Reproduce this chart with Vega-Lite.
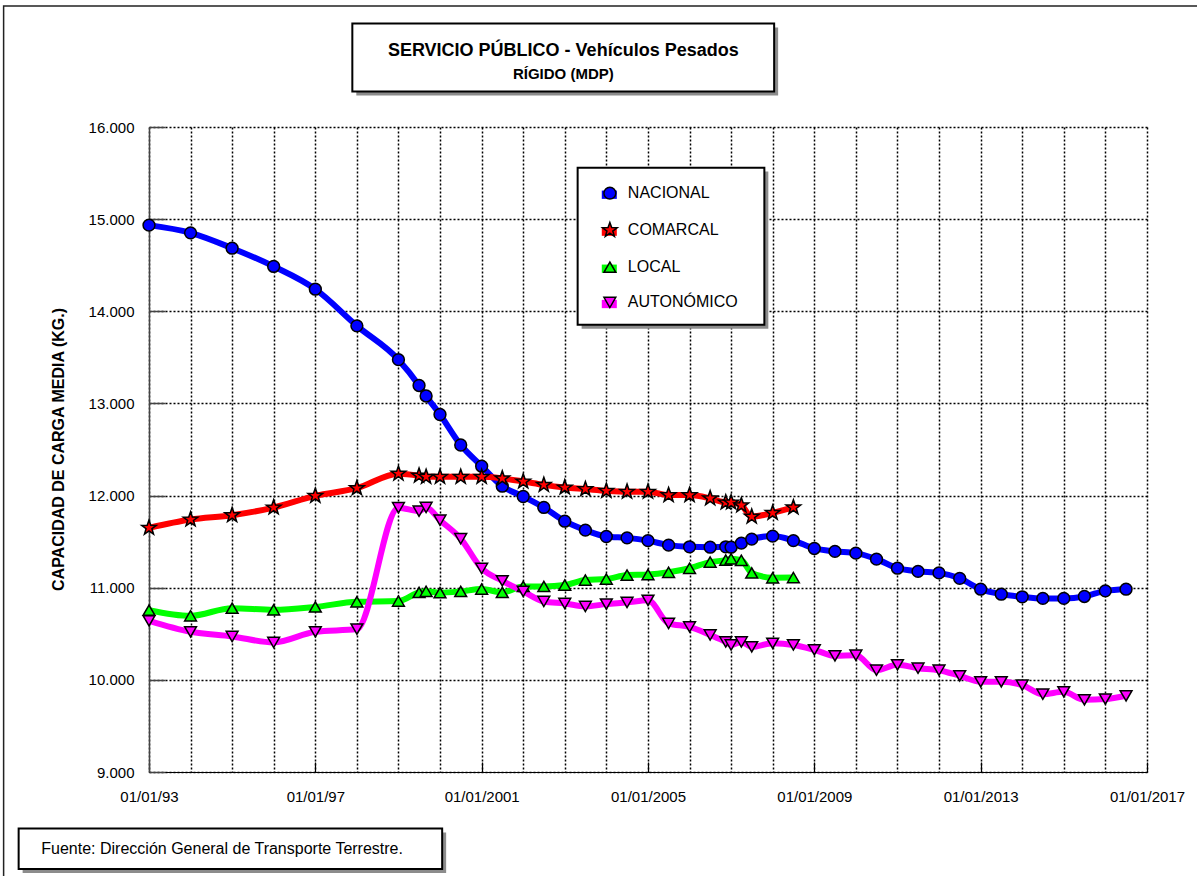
{
  "$schema": "https://vega.github.io/schema/vega-lite/v6.json",
  "width": 998,
  "height": 645,
  "autosize": "none",
  "padding": {"left": 149, "top": 127, "right": 50, "bottom": 104},
  "background": "white",
  "config": {"view": {"stroke": null}, "font": "Liberation Sans"},
  "datasets": {
    "series": [
      {"d": "1993-01-01", "s": "NACIONAL", "v": 14935},
      {"d": "1994-01-01", "s": "NACIONAL", "v": 14851},
      {"d": "1995-01-01", "s": "NACIONAL", "v": 14685},
      {"d": "1996-01-01", "s": "NACIONAL", "v": 14487},
      {"d": "1997-01-01", "s": "NACIONAL", "v": 14240},
      {"d": "1998-01-01", "s": "NACIONAL", "v": 13842},
      {"d": "1999-01-01", "s": "NACIONAL", "v": 13475},
      {"d": "1999-07-01", "s": "NACIONAL", "v": 13195},
      {"d": "1999-09-01", "s": "NACIONAL", "v": 13081},
      {"d": "2000-01-01", "s": "NACIONAL", "v": 12880},
      {"d": "2000-07-01", "s": "NACIONAL", "v": 12549},
      {"d": "2001-01-01", "s": "NACIONAL", "v": 12319},
      {"d": "2001-07-01", "s": "NACIONAL", "v": 12102},
      {"d": "2002-01-01", "s": "NACIONAL", "v": 11990},
      {"d": "2002-07-01", "s": "NACIONAL", "v": 11871},
      {"d": "2003-01-01", "s": "NACIONAL", "v": 11722},
      {"d": "2003-07-01", "s": "NACIONAL", "v": 11625},
      {"d": "2004-01-01", "s": "NACIONAL", "v": 11556},
      {"d": "2004-07-01", "s": "NACIONAL", "v": 11541},
      {"d": "2005-01-01", "s": "NACIONAL", "v": 11511},
      {"d": "2005-07-01", "s": "NACIONAL", "v": 11462},
      {"d": "2006-01-01", "s": "NACIONAL", "v": 11444},
      {"d": "2006-07-01", "s": "NACIONAL", "v": 11440},
      {"d": "2006-11-15", "s": "NACIONAL", "v": 11444},
      {"d": "2007-01-01", "s": "NACIONAL", "v": 11440},
      {"d": "2007-04-01", "s": "NACIONAL", "v": 11484},
      {"d": "2007-07-01", "s": "NACIONAL", "v": 11527},
      {"d": "2008-01-01", "s": "NACIONAL", "v": 11560},
      {"d": "2008-07-01", "s": "NACIONAL", "v": 11511},
      {"d": "2009-01-01", "s": "NACIONAL", "v": 11426},
      {"d": "2009-07-01", "s": "NACIONAL", "v": 11394},
      {"d": "2010-01-01", "s": "NACIONAL", "v": 11375},
      {"d": "2010-07-01", "s": "NACIONAL", "v": 11310},
      {"d": "2011-01-01", "s": "NACIONAL", "v": 11212},
      {"d": "2011-07-01", "s": "NACIONAL", "v": 11177},
      {"d": "2012-01-01", "s": "NACIONAL", "v": 11161},
      {"d": "2012-07-01", "s": "NACIONAL", "v": 11101},
      {"d": "2013-01-01", "s": "NACIONAL", "v": 10984},
      {"d": "2013-07-01", "s": "NACIONAL", "v": 10930},
      {"d": "2014-01-01", "s": "NACIONAL", "v": 10901},
      {"d": "2014-07-01", "s": "NACIONAL", "v": 10884},
      {"d": "2015-01-01", "s": "NACIONAL", "v": 10884},
      {"d": "2015-07-01", "s": "NACIONAL", "v": 10905},
      {"d": "2016-01-01", "s": "NACIONAL", "v": 10966},
      {"d": "2016-07-01", "s": "NACIONAL", "v": 10984},
      {"d": "1993-01-01", "s": "COMARCAL", "v": 11650},
      {"d": "1994-01-01", "s": "COMARCAL", "v": 11740},
      {"d": "1995-01-01", "s": "COMARCAL", "v": 11787},
      {"d": "1996-01-01", "s": "COMARCAL", "v": 11870},
      {"d": "1997-01-01", "s": "COMARCAL", "v": 11997},
      {"d": "1998-01-01", "s": "COMARCAL", "v": 12080},
      {"d": "1999-01-01", "s": "COMARCAL", "v": 12238},
      {"d": "1999-07-01", "s": "COMARCAL", "v": 12216},
      {"d": "1999-09-01", "s": "COMARCAL", "v": 12203},
      {"d": "2000-01-01", "s": "COMARCAL", "v": 12203},
      {"d": "2000-07-01", "s": "COMARCAL", "v": 12203},
      {"d": "2001-01-01", "s": "COMARCAL", "v": 12203},
      {"d": "2001-07-01", "s": "COMARCAL", "v": 12186},
      {"d": "2002-01-01", "s": "COMARCAL", "v": 12153},
      {"d": "2002-07-01", "s": "COMARCAL", "v": 12116},
      {"d": "2003-01-01", "s": "COMARCAL", "v": 12088},
      {"d": "2003-07-01", "s": "COMARCAL", "v": 12070},
      {"d": "2004-01-01", "s": "COMARCAL", "v": 12051},
      {"d": "2004-07-01", "s": "COMARCAL", "v": 12041},
      {"d": "2005-01-01", "s": "COMARCAL", "v": 12041},
      {"d": "2005-07-01", "s": "COMARCAL", "v": 12005},
      {"d": "2006-01-01", "s": "COMARCAL", "v": 12005},
      {"d": "2006-07-01", "s": "COMARCAL", "v": 11970},
      {"d": "2006-11-15", "s": "COMARCAL", "v": 11925},
      {"d": "2007-01-01", "s": "COMARCAL", "v": 11925},
      {"d": "2007-04-01", "s": "COMARCAL", "v": 11894},
      {"d": "2007-07-01", "s": "COMARCAL", "v": 11771},
      {"d": "2008-01-01", "s": "COMARCAL", "v": 11812},
      {"d": "2008-07-01", "s": "COMARCAL", "v": 11871},
      {"d": "1993-01-01", "s": "LOCAL", "v": 10756},
      {"d": "1994-01-01", "s": "LOCAL", "v": 10695},
      {"d": "1995-01-01", "s": "LOCAL", "v": 10778},
      {"d": "1996-01-01", "s": "LOCAL", "v": 10760},
      {"d": "1997-01-01", "s": "LOCAL", "v": 10792},
      {"d": "1998-01-01", "s": "LOCAL", "v": 10847},
      {"d": "1999-01-01", "s": "LOCAL", "v": 10855},
      {"d": "1999-07-01", "s": "LOCAL", "v": 10949},
      {"d": "1999-09-01", "s": "LOCAL", "v": 10961},
      {"d": "2000-01-01", "s": "LOCAL", "v": 10946},
      {"d": "2000-07-01", "s": "LOCAL", "v": 10960},
      {"d": "2001-01-01", "s": "LOCAL", "v": 10985},
      {"d": "2001-07-01", "s": "LOCAL", "v": 10949},
      {"d": "2002-01-01", "s": "LOCAL", "v": 11014},
      {"d": "2002-07-01", "s": "LOCAL", "v": 11014},
      {"d": "2003-01-01", "s": "LOCAL", "v": 11029},
      {"d": "2003-07-01", "s": "LOCAL", "v": 11083},
      {"d": "2004-01-01", "s": "LOCAL", "v": 11094},
      {"d": "2004-07-01", "s": "LOCAL", "v": 11137},
      {"d": "2005-01-01", "s": "LOCAL", "v": 11143},
      {"d": "2005-07-01", "s": "LOCAL", "v": 11167},
      {"d": "2006-01-01", "s": "LOCAL", "v": 11211},
      {"d": "2006-07-01", "s": "LOCAL", "v": 11278},
      {"d": "2006-11-15", "s": "LOCAL", "v": 11300},
      {"d": "2007-01-01", "s": "LOCAL", "v": 11314},
      {"d": "2007-04-01", "s": "LOCAL", "v": 11298},
      {"d": "2007-07-01", "s": "LOCAL", "v": 11161},
      {"d": "2008-01-01", "s": "LOCAL", "v": 11108},
      {"d": "2008-07-01", "s": "LOCAL", "v": 11110},
      {"d": "1993-01-01", "s": "AUTONÓMICO", "v": 10641},
      {"d": "1994-01-01", "s": "AUTONÓMICO", "v": 10522},
      {"d": "1995-01-01", "s": "AUTONÓMICO", "v": 10471},
      {"d": "1996-01-01", "s": "AUTONÓMICO", "v": 10406},
      {"d": "1997-01-01", "s": "AUTONÓMICO", "v": 10522},
      {"d": "1998-01-01", "s": "AUTONÓMICO", "v": 10551},
      {"d": "1999-01-01", "s": "AUTONÓMICO", "v": 11868},
      {"d": "1999-07-01", "s": "AUTONÓMICO", "v": 11831},
      {"d": "1999-09-01", "s": "AUTONÓMICO", "v": 11871},
      {"d": "2000-01-01", "s": "AUTONÓMICO", "v": 11733},
      {"d": "2000-07-01", "s": "AUTONÓMICO", "v": 11532},
      {"d": "2001-01-01", "s": "AUTONÓMICO", "v": 11209},
      {"d": "2001-07-01", "s": "AUTONÓMICO", "v": 11075},
      {"d": "2002-01-01", "s": "AUTONÓMICO", "v": 10960},
      {"d": "2002-07-01", "s": "AUTONÓMICO", "v": 10851},
      {"d": "2003-01-01", "s": "AUTONÓMICO", "v": 10829},
      {"d": "2003-07-01", "s": "AUTONÓMICO", "v": 10797},
      {"d": "2004-01-01", "s": "AUTONÓMICO", "v": 10822},
      {"d": "2004-07-01", "s": "AUTONÓMICO", "v": 10840},
      {"d": "2005-01-01", "s": "AUTONÓMICO", "v": 10863},
      {"d": "2005-07-01", "s": "AUTONÓMICO", "v": 10612},
      {"d": "2006-01-01", "s": "AUTONÓMICO", "v": 10575},
      {"d": "2006-07-01", "s": "AUTONÓMICO", "v": 10488},
      {"d": "2006-11-15", "s": "AUTONÓMICO", "v": 10412},
      {"d": "2007-01-01", "s": "AUTONÓMICO", "v": 10379},
      {"d": "2007-04-01", "s": "AUTONÓMICO", "v": 10412},
      {"d": "2007-07-01", "s": "AUTONÓMICO", "v": 10358},
      {"d": "2008-01-01", "s": "AUTONÓMICO", "v": 10396},
      {"d": "2008-07-01", "s": "AUTONÓMICO", "v": 10379},
      {"d": "2009-01-01", "s": "AUTONÓMICO", "v": 10326},
      {"d": "2009-07-01", "s": "AUTONÓMICO", "v": 10261},
      {"d": "2010-01-01", "s": "AUTONÓMICO", "v": 10268},
      {"d": "2010-07-01", "s": "AUTONÓMICO", "v": 10105},
      {"d": "2011-01-01", "s": "AUTONÓMICO", "v": 10163},
      {"d": "2011-07-01", "s": "AUTONÓMICO", "v": 10127},
      {"d": "2012-01-01", "s": "AUTONÓMICO", "v": 10105},
      {"d": "2012-07-01", "s": "AUTONÓMICO", "v": 10044},
      {"d": "2013-01-01", "s": "AUTONÓMICO", "v": 9979},
      {"d": "2013-07-01", "s": "AUTONÓMICO", "v": 9979},
      {"d": "2014-01-01", "s": "AUTONÓMICO", "v": 9943},
      {"d": "2014-07-01", "s": "AUTONÓMICO", "v": 9845},
      {"d": "2015-01-01", "s": "AUTONÓMICO", "v": 9870},
      {"d": "2015-07-01", "s": "AUTONÓMICO", "v": 9784},
      {"d": "2016-01-01", "s": "AUTONÓMICO", "v": 9791},
      {"d": "2016-07-01", "s": "AUTONÓMICO", "v": 9827}
    ]
  },
  "layer": [
    {
      "data": {"values": [{}]},
      "mark": {"type": "rect", "fill": null, "stroke": "#222", "strokeWidth": 1.5},
      "encoding": {
        "x": {"datum": {"year": 1989, "month": 7, "date": 4}, "type": "temporal"},
        "x2": {"datum": {"year": 2019, "month": 6, "date": 1}},
        "y": {"datum": 17312, "type": "quantitative"},
        "y2": {"datum": 6000}
      }
    },
    {
      "data": {"values": [{}]},
      "mark": {"type": "rect", "fill": "#8c8c8c"},
      "encoding": {
        "x": {"datum": {"year": 1997, "month": 12, "date": 27}, "type": "temporal"},
        "x2": {"datum": {"year": 2008, "month": 2, "date": 18}},
        "y": {"datum": 17080, "type": "quantitative"},
        "y2": {"datum": 16343}
      }
    },
    {
      "data": {"values": [{}]},
      "mark": {"type": "rect", "fill": "white", "stroke": "black", "strokeWidth": 2},
      "encoding": {
        "x": {"datum": {"year": 1997, "month": 11, "date": 22}, "type": "temporal"},
        "x2": {"datum": {"year": 2008, "month": 1, "date": 14}},
        "y": {"datum": 17123, "type": "quantitative"},
        "y2": {"datum": 16386}
      }
    },
    {
      "data": {"values": [{}]},
      "mark": {"type": "text", "text": "SERVICIO PÚBLICO - Vehículos Pesados", "font": "Liberation Sans", "fontSize": 18, "fontWeight": "bold", "color": "black", "align": "center", "baseline": "alphabetic"},
      "encoding": {
        "x": {"datum": {"year": 2002, "month": 12, "date": 19}, "type": "temporal"},
        "y": {"datum": 16772, "type": "quantitative"}
      }
    },
    {
      "data": {"values": [{}]},
      "mark": {"type": "text", "text": "RÍGIDO (MDP)", "font": "Liberation Sans", "fontSize": 15, "fontWeight": "bold", "color": "black", "align": "center", "baseline": "alphabetic"},
      "encoding": {
        "x": {"datum": {"year": 2002, "month": 12, "date": 19}, "type": "temporal"},
        "y": {"datum": 16519, "type": "quantitative"}
      }
    },
    {
      "data": {"values": [{}]},
      "mark": {"type": "rect", "fill": "#8c8c8c"},
      "encoding": {
        "x": {"datum": {"year": 1989, "month": 12, "date": 18}, "type": "temporal"},
        "x2": {"datum": {"year": 2000, "month": 2, "date": 24}},
        "y": {"datum": 8344, "type": "quantitative"},
        "y2": {"datum": 7903}
      }
    },
    {
      "data": {"values": [{}]},
      "mark": {"type": "rect", "fill": "white", "stroke": "black", "strokeWidth": 2},
      "encoding": {
        "x": {"datum": {"year": 1989, "month": 11, "date": 13}, "type": "temporal"},
        "x2": {"datum": {"year": 2000, "month": 1, "date": 20}},
        "y": {"datum": 8387, "type": "quantitative"},
        "y2": {"datum": 7946}
      }
    },
    {
      "data": {"values": [{}]},
      "mark": {"type": "text", "text": "Fuente: Dirección General de Transporte Terrestre.", "font": "Liberation Sans", "fontSize": 16, "color": "black", "align": "left", "baseline": "middle"},
      "encoding": {
        "x": {"datum": {"year": 1990, "month": 5, "date": 31}, "type": "temporal"},
        "y": {"datum": 8163, "type": "quantitative"}
      }
    },
    {
      "data": {"values": [{}]},
      "mark": {"type": "rect", "fill": "#8c8c8c"},
      "encoding": {
        "x": {"datum": {"year": 2003, "month": 5, "date": 29}, "type": "temporal"},
        "x2": {"datum": {"year": 2007, "month": 11, "date": 24}},
        "y": {"datum": 15516, "type": "quantitative"},
        "y2": {"datum": 13810}
      }
    },
    {
      "data": {"values": [{}]},
      "mark": {"type": "rect", "fill": "white", "stroke": "black", "strokeWidth": 2},
      "encoding": {
        "x": {"datum": {"year": 2003, "month": 4, "date": 24}, "type": "temporal"},
        "x2": {"datum": {"year": 2007, "month": 10, "date": 20}},
        "y": {"datum": 15559, "type": "quantitative"},
        "y2": {"datum": 13853}
      }
    },
    {
      "data": {"values": [{}]},
      "mark": {"type": "rect", "fill": "#0000FF"},
      "encoding": {
        "x": {"datum": {"year": 2003, "month": 11, "date": 22}, "type": "temporal"},
        "x2": {"datum": {"year": 2004, "month": 4, "date": 2}},
        "y": {"datum": 15310, "type": "quantitative"},
        "y2": {"datum": 15220}
      }
    },
    {
      "data": {"values": [{}]},
      "mark": {"type": "rect", "fill": "#FF0000"},
      "encoding": {
        "x": {"datum": {"year": 2003, "month": 11, "date": 22}, "type": "temporal"},
        "x2": {"datum": {"year": 2004, "month": 4, "date": 2}},
        "y": {"datum": 14909, "type": "quantitative"},
        "y2": {"datum": 14819}
      }
    },
    {
      "data": {"values": [{}]},
      "mark": {"type": "rect", "fill": "#00FF00"},
      "encoding": {
        "x": {"datum": {"year": 2003, "month": 11, "date": 22}, "type": "temporal"},
        "x2": {"datum": {"year": 2004, "month": 4, "date": 2}},
        "y": {"datum": 14507, "type": "quantitative"},
        "y2": {"datum": 14417}
      }
    },
    {
      "data": {"values": [{}]},
      "mark": {"type": "rect", "fill": "#FF00FF"},
      "encoding": {
        "x": {"datum": {"year": 2003, "month": 11, "date": 22}, "type": "temporal"},
        "x2": {"datum": {"year": 2004, "month": 4, "date": 2}},
        "y": {"datum": 14124, "type": "quantitative"},
        "y2": {"datum": 14034}
      }
    },
    {
      "data": {"values": [{}]},
      "mark": {"type": "point", "shape": "circle", "filled": true, "fill": "#0000FF", "stroke": "black", "strokeWidth": 1.5, "size": 140, "opacity": 1},
      "encoding": {
        "x": {"datum": {"year": 2004, "month": 2, "date": 1}, "type": "temporal"},
        "y": {"datum": 15282, "type": "quantitative"}
      }
    },
    {
      "data": {"values": [{}]},
      "mark": {"type": "point", "shape": "M0,-1.3L0.306,-0.421L1.236,-0.402L0.494,0.161L0.764,1.052L0,0.52L-0.764,1.052L-0.494,0.161L-1.236,-0.402L-0.306,-0.421Z", "filled": true, "fill": "#FF0000", "stroke": "black", "strokeWidth": 1.5, "size": 140, "opacity": 1},
      "encoding": {
        "x": {"datum": {"year": 2004, "month": 2, "date": 1}, "type": "temporal"},
        "y": {"datum": 14881, "type": "quantitative"}
      }
    },
    {
      "data": {"values": [{}]},
      "mark": {"type": "point", "shape": "triangle-up", "filled": true, "fill": "#00FF00", "stroke": "black", "strokeWidth": 1.5, "size": 140, "opacity": 1},
      "encoding": {
        "x": {"datum": {"year": 2004, "month": 2, "date": 1}, "type": "temporal"},
        "y": {"datum": 14479, "type": "quantitative"}
      }
    },
    {
      "data": {"values": [{}]},
      "mark": {"type": "point", "shape": "triangle-down", "filled": true, "fill": "#FF00FF", "stroke": "black", "strokeWidth": 1.5, "size": 140, "opacity": 1},
      "encoding": {
        "x": {"datum": {"year": 2004, "month": 2, "date": 1}, "type": "temporal"},
        "y": {"datum": 14096, "type": "quantitative"}
      }
    },
    {
      "data": {"values": [{}]},
      "mark": {"type": "text", "text": "NACIONAL", "font": "Liberation Sans", "fontSize": 16, "color": "black", "align": "left", "baseline": "middle"},
      "encoding": {
        "x": {"datum": {"year": 2004, "month": 7, "date": 8}, "type": "temporal"},
        "y": {"datum": 15282, "type": "quantitative"}
      }
    },
    {
      "data": {"values": [{}]},
      "mark": {"type": "text", "text": "COMARCAL", "font": "Liberation Sans", "fontSize": 16, "color": "black", "align": "left", "baseline": "middle"},
      "encoding": {
        "x": {"datum": {"year": 2004, "month": 7, "date": 8}, "type": "temporal"},
        "y": {"datum": 14881, "type": "quantitative"}
      }
    },
    {
      "data": {"values": [{}]},
      "mark": {"type": "text", "text": "LOCAL", "font": "Liberation Sans", "fontSize": 16, "color": "black", "align": "left", "baseline": "middle"},
      "encoding": {
        "x": {"datum": {"year": 2004, "month": 7, "date": 8}, "type": "temporal"},
        "y": {"datum": 14479, "type": "quantitative"}
      }
    },
    {
      "data": {"values": [{}]},
      "mark": {"type": "text", "text": "AUTONÓMICO", "font": "Liberation Sans", "fontSize": 16, "color": "black", "align": "left", "baseline": "middle"},
      "encoding": {
        "x": {"datum": {"year": 2004, "month": 7, "date": 8}, "type": "temporal"},
        "y": {"datum": 14096, "type": "quantitative"}
      }
    },
    {
      "data": {"name": "series"},
      "mark": {"type": "line", "strokeWidth": 6, "interpolate": "monotone"},
      "encoding": {
        "x": {
          "field": "d", "type": "temporal",
          "scale": {"domain": [{"year": 1993, "month": 1, "date": 1}, {"year": 2017, "month": 1, "date": 1}], "nice": false},
          "axis": {
            "title": null,
            "values": [
              {"year": 1993, "month": 1, "date": 1}, {"year": 1994, "month": 1, "date": 1}, {"year": 1995, "month": 1, "date": 1},
              {"year": 1996, "month": 1, "date": 1}, {"year": 1997, "month": 1, "date": 1}, {"year": 1998, "month": 1, "date": 1},
              {"year": 1999, "month": 1, "date": 1}, {"year": 2000, "month": 1, "date": 1}, {"year": 2001, "month": 1, "date": 1},
              {"year": 2002, "month": 1, "date": 1}, {"year": 2003, "month": 1, "date": 1}, {"year": 2004, "month": 1, "date": 1},
              {"year": 2005, "month": 1, "date": 1}, {"year": 2006, "month": 1, "date": 1}, {"year": 2007, "month": 1, "date": 1},
              {"year": 2008, "month": 1, "date": 1}, {"year": 2009, "month": 1, "date": 1}, {"year": 2010, "month": 1, "date": 1},
              {"year": 2011, "month": 1, "date": 1}, {"year": 2012, "month": 1, "date": 1}, {"year": 2013, "month": 1, "date": 1},
              {"year": 2014, "month": 1, "date": 1}, {"year": 2015, "month": 1, "date": 1}, {"year": 2016, "month": 1, "date": 1},
              {"year": 2017, "month": 1, "date": 1}
            ],
            "labelExpr": "year(datum.value) % 4 == 1 ? (year(datum.value) < 2000 ? timeFormat(datum.value, '%d/%m/%y') : timeFormat(datum.value, '%d/%m/%Y')) : ''",
            "labelFont": "Liberation Sans", "labelFontSize": 15, "labelColor": "black",
            "labelPadding": 27, "labelFlush": false, "labelOverlap": false, "labelBound": false,
            "grid": true, "gridColor": "black", "gridDash": [2, 2], "gridWidth": 1.5, "gridOpacity": 1,
            "domainColor": "black", "domainWidth": 1.2,
            "ticks": true, "tickSize": -10, "tickColor": "black", "tickWidth": 1.2,
            "tickOpacity": {"condition": {"test": "year(datum.value) % 4 == 1", "value": 1}, "value": 0}
          }
        },
        "y": {
          "field": "v", "type": "quantitative",
          "scale": {"domain": [9000, 16000], "zero": false, "nice": false},
          "axis": {
            "title": "CAPACIDAD DE CARGA MEDIA (KG.)",
            "titleFont": "Liberation Sans", "titleFontSize": 16, "titleFontWeight": "bold", "titleColor": "black",
            "titleX": -91, "titleY": 322, "titleAngle": -90, "titleAlign": "center", "titleBaseline": "middle",
            "values": [9000, 10000, 11000, 12000, 13000, 14000, 15000, 16000],
            "labelExpr": "replace(format(datum.value, ',.0f'), ',', '.')",
            "labelFont": "Liberation Sans", "labelFontSize": 15, "labelColor": "black", "labelPadding": 31,
            "grid": true, "gridColor": "black", "gridDash": [2, 2], "gridWidth": 1.5, "gridOpacity": 1,
            "domainColor": "#444", "domainWidth": 1.5,
            "ticks": true, "tickSize": -16, "tickColor": "#444", "tickWidth": 1.5
          }
        },
        "stroke": {
          "field": "s", "type": "nominal",
          "scale": {"domain": ["NACIONAL", "COMARCAL", "LOCAL", "AUTONÓMICO"], "range": ["#0000FF", "#FF0000", "#00FF00", "#FF00FF"]},
          "legend": null
        }
      }
    },
    {
      "data": {"name": "series"},
      "mark": {"type": "point", "filled": true, "stroke": "black", "strokeWidth": 1.5, "size": 140, "opacity": 1},
      "encoding": {
        "x": {"field": "d", "type": "temporal"},
        "y": {"field": "v", "type": "quantitative"},
        "color": {
          "field": "s", "type": "nominal",
          "scale": {"domain": ["NACIONAL", "COMARCAL", "LOCAL", "AUTONÓMICO"], "range": ["#0000FF", "#FF0000", "#00FF00", "#FF00FF"]},
          "legend": null
        },
        "shape": {
          "field": "s", "type": "nominal",
          "scale": {"domain": ["NACIONAL", "COMARCAL", "LOCAL", "AUTONÓMICO"],
            "range": ["circle", "M0,-1.3L0.306,-0.421L1.236,-0.402L0.494,0.161L0.764,1.052L0,0.52L-0.764,1.052L-0.494,0.161L-1.236,-0.402L-0.306,-0.421Z", "triangle-up", "triangle-down"]},
          "legend": null
        }
      }
    }
  ]
}
